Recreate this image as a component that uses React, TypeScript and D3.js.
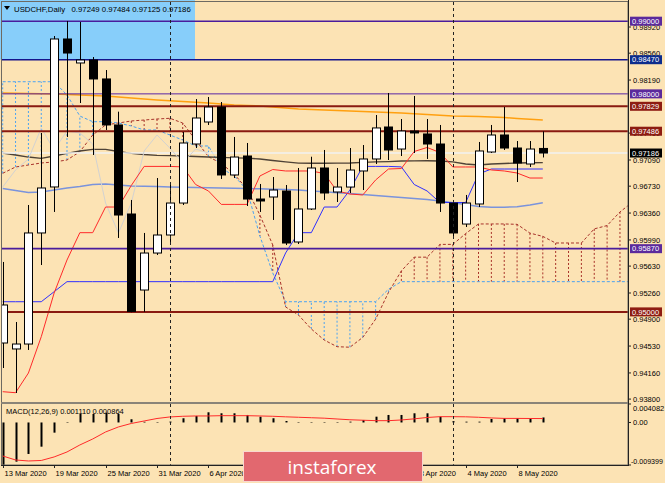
import React from 'react';
import * as d3 from 'd3';

// ---------- DATA ----------
const barDates = ['13 Mar','16 Mar','17 Mar','18 Mar','19 Mar','20 Mar','23 Mar','24 Mar','25 Mar','26 Mar','27 Mar','30 Mar','31 Mar',
  '1 Apr','2 Apr','3 Apr','6 Apr','7 Apr','8 Apr','9 Apr','10 Apr','13 Apr','14 Apr','15 Apr','16 Apr','17 Apr','20 Apr','21 Apr','22 Apr',
  '23 Apr','24 Apr','27 Apr','28 Apr','29 Apr','30 Apr','1 May','4 May','5 May','6 May','7 May','8 May','11 May','12 May'];
const opens = [0.94572,0.94490,0.94558,0.96086,0.96719,0.98755,0.98425,0.98466,0.98205,0.97572,0.96347,0.95301,0.95810,
  0.96058,0.96498,0.97310,0.97613,0.97819,0.96884,0.97145,0.96553,0.96581,0.96663,0.95962,0.96416,0.96980,0.96650,0.96718,0.96939,
  0.97104,0.97544,0.97241,0.97489,0.97448,0.97310,0.96498,0.96209,0.96485,0.97200,0.97434,0.97255,0.97035,0.97249];
const highs = [0.95687,0.94861,0.96471,0.97462,0.98796,0.99003,0.98989,0.98507,0.98328,0.97755,0.96540,0.96086,0.96842,
  0.96773,0.97475,0.97929,0.97957,0.97888,0.97407,0.97324,0.96760,0.96856,0.96746,0.96980,0.97135,0.97228,0.96980,0.97255,0.97296,
  0.97709,0.98012,0.97654,0.97971,0.97654,0.97572,0.96540,0.96609,0.97338,0.97572,0.97819,0.97351,0.97351,0.97484];
const lows = [0.94228,0.93884,0.94476,0.95645,0.96375,0.97407,0.97874,0.97159,0.97503,0.96017,0.94995,0.95000,0.95783,
  0.95962,0.96471,0.97255,0.97572,0.96829,0.96842,0.96457,0.96375,0.96265,0.95920,0.95934,0.96402,0.96540,0.96512,0.96636,0.96677,
  0.97035,0.97090,0.97145,0.97186,0.97104,0.96375,0.96044,0.96168,0.96443,0.97186,0.97228,0.96787,0.96994,0.97125];
const closes = [0.95095,0.94558,0.96086,0.96705,0.98755,0.98562,0.98466,0.98205,0.97572,0.96333,0.95005,0.95810,0.96058,
  0.96498,0.97324,0.97668,0.97819,0.96884,0.97131,0.96553,0.96526,0.96677,0.95948,0.96416,0.96980,0.96636,0.96718,0.96952,0.97104,
  0.97531,0.97228,0.97489,0.97462,0.97310,0.96498,0.96086,0.96498,0.97214,0.97434,0.97255,0.97049,0.97241,0.97186];

const tenkan = [0.93902,0.93888,0.94159,0.94659,0.95260,0.95714,0.96090,0.96090,0.96443,0.96443,0.96739,0.97002,0.97002,0.97002,
  0.96995,0.96753,0.96664,0.96479,0.96479,0.96479,0.96870,0.96959,0.96939,0.96939,0.96939,0.96904,0.96664,0.96622,0.96609,0.96815,
  0.96966,0.96973,0.97207,0.97262,0.97193,0.96994,0.96994,0.96994,0.96953,0.96939,0.96911,0.96842,0.96842];
const kijun = [0.95140,0.95140,0.95140,0.95140,0.95278,0.95416,0.95416,0.95416,0.95416,0.95416,0.95416,0.95416,0.95416,0.95416,
  0.95416,0.95416,0.95416,0.95416,0.95416,0.95416,0.95416,0.95416,0.95811,0.96090,0.96090,0.96443,0.96443,0.96677,0.97002,0.97002,
  0.97002,0.96995,0.96753,0.96664,0.96505,0.96505,0.96505,0.96897,0.96966,0.96966,0.96966,0.96966,0.96966];
const spanA = [0.96907,0.96994,0.97021,0.97049,0.97063,0.97090,0.97204,0.97434,0.97572,0.97599,0.97627,0.97640,0.97654,0.97664,
  0.97599,0.97365,0.97136,0.97042,0.96897,0.96691,0.96333,0.95921,0.95068,0.94957,0.94765,0.94613,0.94521,0.94514,0.94649,0.94900,
  0.95268,0.95564,0.95753,0.95753,0.95929,0.95929,0.96077,0.96210,0.96210,0.96210,0.96205,0.96084,0.96039,0.95948,0.95948,0.95948,
  0.96142,0.96188,0.96375,0.96514];
const spanB = [0.98167,0.98167,0.98167,0.98167,0.98167,0.97984,0.97695,0.97617,0.97617,0.97599,0.97558,0.97503,0.97503,0.97434,
  0.97365,0.97283,0.97283,0.96980,0.96870,0.96677,0.96044,0.95535,0.95140,0.95140,0.95140,0.95140,0.95140,0.95140,0.95140,0.95140,
  0.95312,0.95416,0.95416,0.95416,0.95416,0.95416,0.95416,0.95416,0.95416,0.95416,0.95416,0.95416,0.95416,0.95416,0.95416,0.95416,
  0.95416,0.95416,0.95416,0.95416];
const maOrange = [0.98012,0.98008,0.98005,0.98001,0.97998,0.97991,0.97984,0.97978,0.97971,0.97957,0.97943,0.97929,0.97916,0.97905,
  0.97895,0.97884,0.97874,0.97861,0.97847,0.97840,0.97833,0.97819,0.97805,0.97792,0.97785,0.97778,0.97771,0.97764,0.97757,0.97751,
  0.97744,0.97737,0.97727,0.97716,0.97705,0.97696,0.97692,0.97688,0.97682,0.97675,0.97661,0.97650,0.97641];
const maDark = [0.97186,0.97159,0.97131,0.97113,0.97145,0.97180,0.97214,0.97235,0.97235,0.97207,0.97182,0.97166,0.97155,0.97149,
  0.97145,0.97138,0.97131,0.97125,0.97120,0.97115,0.97104,0.97083,0.97063,0.97046,0.97045,0.97045,0.97046,0.97049,0.97056,0.97063,
  0.97069,0.97076,0.97079,0.97080,0.97076,0.97063,0.97035,0.97021,0.97035,0.97042,0.97049,0.97052,0.97053];
const maBlue = [0.96698,0.96670,0.96643,0.96650,0.96677,0.96705,0.96725,0.96753,0.96760,0.96746,0.96732,0.96728,0.96724,0.96719,
  0.96714,0.96712,0.96708,0.96705,0.96701,0.96698,0.96694,0.96688,0.96683,0.96677,0.96664,0.96653,0.96640,0.96629,0.96615,0.96602,
  0.96588,0.96574,0.96560,0.96547,0.96526,0.96501,0.96478,0.96450,0.96439,0.96441,0.96448,0.96471,0.96503];
const macdMain = [-0.00939,-0.00866,-0.00696,-0.00535,-0.00225,0.0001,0.00188,0.00188,0.00217,0.00188,0.00071,0.00015,0.0001,0.0002,
  0.00093,0.00144,0.00225,0.00203,0.00203,0.00166,0.00128,0.00093,0.00033,0.0001,0.0001,0.0001,0.0001,0.00018,0.00055,0.00128,
  0.00166,0.00166,0.00203,0.00203,0.00128,0.0003,0.00018,0.00018,0.00077,0.00093,0.00093,0.00093,0.00111];
const macdSignal = [-0.0074,-0.00829,-0.00851,-0.0084,-0.00762,-0.00652,-0.00497,-0.00365,-0.0021,-0.00099,-0.00022,0.00033,0.00088,
  0.00122,0.00137,0.00144,0.00144,0.0015,0.0015,0.0015,0.00144,0.00137,0.00125,0.00115,0.00105,0.00095,0.00077,0.0006,0.0005,0.0004,
  0.0004,0.00055,0.0008,0.0011,0.00128,0.00128,0.00125,0.00115,0.001,0.0009,0.0009,0.00088,0.000864];

const levelValues = [0.99000, 0.98470, 0.98000, 0.97829, 0.97486, 0.95870, 0.95000];
const levelKinds = ['purple', 'navy', 'purpleThin', 'maroon', 'maroon', 'purple', 'maroon'];
const bidPrice = 0.97186;
const priceTicks = [0.98920, 0.98560, 0.98190, 0.97460, 0.97090, 0.96730, 0.96360, 0.95990, 0.95630, 0.95260, 0.94900, 0.94530, 0.94160, 0.93800];
const priceTickLabels = ['0.98920','0.98560','0.98190','0.97460','0.97090','0.96730','0.96360','0.95990','0.95630','0.95260','0.94900','0.94530','0.94160','0.93800'];
const macdTicks = [0.004082, 0, -0.009399];
const macdTickLabels = ['0.004082', '0.00', '-0.009399'];
const xTickIdx = [0, 4, 8, 12, 16, 20, 24, 28, 32, 36, 40];
const xLabelIdx = [0, 4, 8, 12, 16, 32, 36, 40];
const separatorIdx = [13, 35];
const headerSymbol = 'USDCHF,Daily';
const headerValues = '0.97249 0.97484 0.97125 0.97186';
const macdTitle = 'MACD(12,26,9) 0.001110 0.000864';
const watermarkText = 'instaforex';

// ---------- STYLE ----------
const BG = '#fce3b4';
const FONT = "'Liberation Sans', Arial, sans-serif";
const LEVEL_STYLE: Record<string, { stroke: string; box: string; w: number }> = {
  purple: { stroke: '#4a1c9c', box: '#5b2a9c', w: 1.6 },
  purpleThin: { stroke: '#5a24a4', box: '#5b2a9c', w: 1 },
  navy: { stroke: '#14148c', box: '#0c2c8c', w: 1.6 },
  maroon: { stroke: '#8a1a10', box: '#8e1c12', w: 2 },
};

const W = 665, H = 483;
const plotL = 1, plotR = 628, mainT = 2, mainB = 402, macdT = 404, macdB = 465;

export default function App() {
  const x = d3.scaleLinear().domain([0, 42]).range([2.7, 542.8]);
  const y = d3.scaleLinear().domain([0.98920, 0.95260]).range([27, 293]);
  const m = d3.scaleLinear().domain([-0.009399, 0.004082]).range([465, 404]);

  const line = (arr: number[], offset = 0) =>
    d3.line<number>().x((_, i) => x(i + offset)).y((d) => y(d))(arr) || '';
  const mline = d3.line<number>().x((_, i) => x(i)).y((d) => m(d));

  const chikou = closes.slice(26);
  const fmt = d3.format('.5f');

  return (
    <div style={{ position: 'absolute', left: 0, top: 0, width: W, height: H }}>
      <svg width={W} height={H} style={{ display: 'block', fontFamily: FONT }}>
        <defs>
          <clipPath id="mainClip"><rect x={plotL} y={mainT} width={plotR - plotL} height={mainB - mainT} /></clipPath>
          <clipPath id="macdClip"><rect x={plotL} y={macdT} width={plotR - plotL} height={macdB - macdT} /></clipPath>
        </defs>
        <rect x={0} y={0} width={W} height={H} fill={BG} />
        <rect x={0} y={0} width={195} height={y(0.98470)} fill="#87cefa" />

        <g clipPath="url(#mainClip)">
          {spanA.map((a, j) => {
            const b = spanB[j];
            return (
              <line key={'h' + j} x1={x(j)} x2={x(j)} y1={y(a)} y2={y(b)}
                stroke={a > b ? '#a8322a' : '#4aa2f2'} strokeWidth={1} strokeDasharray="2,2" />
            );
          })}
          <path d={line(spanB)} fill="none" stroke="#4aa2f2" strokeWidth={1} strokeDasharray="3,2" />
          <path d={line(spanA)} fill="none" stroke="#a8322a" strokeWidth={1} strokeDasharray="3,2" />

          <path d={line(maOrange)} fill="none" stroke="#ffa010" strokeWidth={1.5} />
          <path d={line(maDark)} fill="none" stroke="#4e4236" strokeWidth={1.3} />
          <path d={line(maBlue)} fill="none" stroke="#7a93dc" strokeWidth={1.5} />

          <line x1={plotL} x2={plotR} y1={y(bidPrice)} y2={y(bidPrice)} stroke="#f2f2f2" strokeWidth={1.5} />

          <path d={line(chikou)} fill="none" stroke="#d2d2d2" strokeWidth={1} />
          <path d={line(kijun)} fill="none" stroke="#3030ff" strokeWidth={1} />
          <path d={line(tenkan)} fill="none" stroke="#ff2a2a" strokeWidth={1} />

          {levelValues.map((v, k) => {
            const st = LEVEL_STYLE[levelKinds[k]];
            return <line key={'l' + k} x1={plotL} x2={plotR} y1={y(v)} y2={y(v)} stroke={st.stroke} strokeWidth={st.w} />;
          })}

          {opens.map((o, i) => {
            const c = closes[i];
            const cx = Math.round(x(i)) + 0.5;
            const top = y(Math.max(o, c));
            const bot = y(Math.min(o, c));
            const bull = c >= o;
            return (
              <g key={'c' + i}>
                <line x1={cx} x2={cx} y1={y(highs[i])} y2={y(lows[i])} stroke="#000" strokeWidth={1} />
                <rect x={cx - 4} y={top} width={8} height={Math.max(1.2, bot - top)}
                  fill={bull ? '#ffffff' : '#000000'} stroke="#000" strokeWidth={1} />
              </g>
            );
          })}
        </g>

        <g clipPath="url(#macdClip)">
          {macdMain.map((v, i) => {
            const cx = Math.round(x(i)) + 0.5;
            return <line key={'m' + i} x1={cx} x2={cx} y1={m(0)} y2={m(v)} stroke="#000" strokeWidth={2} />;
          })}
          <path d={mline(macdSignal) || ''} fill="none" stroke="#ff2a2a" strokeWidth={1} />
        </g>

        {separatorIdx.map((i) => (
          <line key={'s' + i} x1={Math.round(x(i)) + 0.5} x2={Math.round(x(i)) + 0.5} y1={mainT} y2={macdB}
            stroke="#222" strokeWidth={1} strokeDasharray="3,3" />
        ))}

        <rect x={plotL + 0.5} y={mainT - 0.5} width={plotR - plotL - 0.5} height={macdB - mainT + 0.5} fill="none" stroke="#6e6a62" strokeWidth={1} />
        <line x1={plotL} x2={plotR} y1={mainB + 1} y2={mainB + 1} stroke="#8a8478" strokeWidth={2} />
        <line x1={plotR + 0.5} x2={plotR + 0.5} y1={0} y2={macdB + 1} stroke="#222" strokeWidth={1} />
        <line x1={plotL} x2={plotR + 1} y1={macdB + 0.5} y2={macdB + 0.5} stroke="#222" strokeWidth={1} />

        <polygon points="4,6 10,6 7,10" fill="#000" />
        <text x={14} y={11.5} fontSize={7.8} fill="#000">{headerSymbol}</text>
        <text x={71.5} y={11.5} fontSize={7.8} fill="#000">{headerValues}</text>
        <text x={6} y={413.5} fontSize={7.5} fill="#000">{macdTitle}</text>

        {priceTicks.map((v, k) => (
          <g key={'pt' + k}>
            <line x1={plotR} x2={plotR + 3} y1={y(v)} y2={y(v)} stroke="#222" />
            <text x={633} y={y(v) + 2.7} fontSize={7.5} fill="#000">{priceTickLabels[k]}</text>
          </g>
        ))}
        {levelValues.map((v, k) => {
          const st = LEVEL_STYLE[levelKinds[k]];
          return (
            <g key={'lb' + k}>
              <rect x={630} y={y(v) - 4.5} width={32} height={9} fill={st.box} />
              <text x={632} y={y(v) + 2.7} fontSize={7.5} fill="#fff">{fmt(v)}</text>
            </g>
          );
        })}
        <g>
          <rect x={630} y={y(bidPrice) - 4.5} width={32} height={9} fill="#000" />
          <text x={632} y={y(bidPrice) + 2.7} fontSize={7.5} fill="#fff">{fmt(bidPrice)}</text>
        </g>

        {macdTicks.map((v, k) => (
          <g key={'mt' + k}>
            <line x1={plotR} x2={plotR + 3} y1={m(v)} y2={m(v)} stroke="#222" />
            <text x={k === 2 ? 631 : 633} y={(k === 0 ? m(v) + 4 : k === 2 ? m(v) - 4 : m(v)) + 2.7}
              fontSize={k === 2 ? 7.1 : 7.5} fill="#000">{macdTickLabels[k]}</text>
          </g>
        ))}

        {xTickIdx.map((i) => {
          const tx = Math.round(x(i)) + 0.5;
          return <line key={'xt' + i} x1={tx} x2={tx} y1={macdB} y2={macdB + 3} stroke="#222" />;
        })}
        {xLabelIdx.map((i) => {
          const tx = Math.round(x(i)) + 0.5;
          return <text key={'xl' + i} x={tx + 1} y={476} fontSize={7.5} fill="#000">{barDates[i] + ' 2020'}</text>;
        })}

        <rect x={243.5} y={451.5} width={179} height={30} fill="#e2686f" stroke="#f8d8d0" strokeWidth={1} />
        <text x={332} y={473.5} fontSize={19} fill="#ffffff" textAnchor="middle"
          style={{ fontFamily: "'Open Sans', 'Noto Sans', sans-serif" }}>{watermarkText}</text>
      </svg>
    </div>
  );
}
